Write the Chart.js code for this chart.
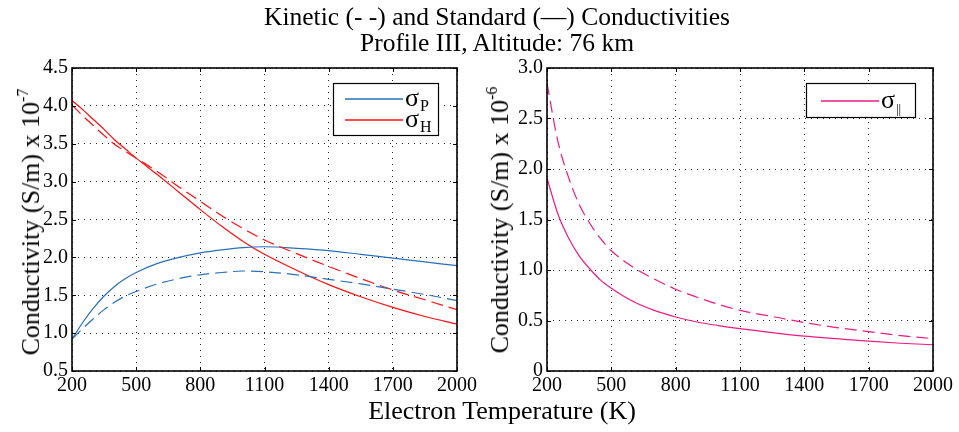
<!DOCTYPE html>
<html>
<head>
<meta charset="utf-8">
<script src="https://cdn.jsdelivr.net/npm/chart.js@4.4.0/dist/chart.umd.min.js"></script>
<style>
  body { margin: 0; background: #fff; }
  #wrap { position: relative; width: 959px; height: 432px; overflow: hidden;
          font-family: "Liberation Serif", "Times New Roman", serif; color: #000; }
  .ttl { position: absolute; left: 247px; width: 500px; text-align: center;
         font-size: 25.5px; line-height: 28px; white-space: nowrap; }
  .ylab { position: absolute; font-size: 26px; white-space: nowrap;
          transform: translate(-50%, -50%) rotate(-90deg); }
  .ylab sup { font-size: 16px; vertical-align: 11px; }
  canvas { position: absolute; top: 0; }
</style>
</head>
<body>
<div id="wrap">
  <canvas id="leftChart" width="480" height="432" style="left:0"></canvas>
  <canvas id="rightChart" width="479" height="432" style="left:480px"></canvas>
  <div class="ttl" style="top:3px">Kinetic (- -) and Standard (—) Conductivities</div>
  <div class="ttl" style="top:29px">Profile III, Altitude: 76 km</div>
  <div class="ttl" style="top:397px;left:252px;font-size:26px">Electron Temperature (K)</div>
  <div class="ylab" style="left:30px;top:222px">Conductivity (S/m) x 10<sup>-7</sup></div>
  <div class="ylab" style="left:499px;top:220px">Conductivity (S/m) x 10<sup>-6</sup></div>
</div>
<script>
// values
const xTicks = [200, 500, 800, 1100, 1400, 1700, 2000];
const yTicksLeft = [0.5, 1, 1.5, 2, 2.5, 3, 3.5, 4, 4.5];
const yTicksRight = [0, 0.5, 1, 1.5, 2, 2.5, 3];

const tempsLeft = [200, 250, 300, 350, 400, 450, 500, 600, 700, 800, 900, 1000, 1100, 1250, 1400, 1550, 1700, 1850, 2000];
const sigmaPStd = [0.92, 1.14, 1.33, 1.49, 1.62, 1.72, 1.80, 1.92, 2.00, 2.06, 2.10, 2.13, 2.14, 2.12, 2.09, 2.04, 1.99, 1.94, 1.89];
const sigmaPKin = [0.92, 1.06, 1.19, 1.31, 1.41, 1.49, 1.55, 1.65, 1.72, 1.77, 1.80, 1.82, 1.81, 1.77, 1.71, 1.65, 1.58, 1.51, 1.43];
const sigmaHStd = [4.07, 3.95, 3.82, 3.69, 3.55, 3.43, 3.31, 3.09, 2.86, 2.63, 2.41, 2.21, 2.04, 1.83, 1.64, 1.48, 1.34, 1.22, 1.12];
const sigmaHKin = [4.01, 3.87, 3.74, 3.61, 3.49, 3.40, 3.31, 3.13, 2.93, 2.74, 2.55, 2.38, 2.23, 2.05, 1.88, 1.72, 1.57, 1.44, 1.31];

const tempsRight = [200, 250, 300, 350, 400, 450, 500, 600, 700, 800, 900, 1000, 1100, 1250, 1400, 1550, 1700, 1850, 2000];
const sigmaParStd = [1.91, 1.56, 1.32, 1.14, 1.01, 0.90, 0.82, 0.69, 0.60, 0.535, 0.485, 0.45, 0.42, 0.38, 0.345, 0.32, 0.295, 0.275, 0.26];
const sigmaParKin = [2.85, 2.28, 1.92, 1.65, 1.46, 1.31, 1.19, 1.03, 0.91, 0.81, 0.73, 0.66, 0.60, 0.54, 0.48, 0.43, 0.39, 0.35, 0.32];

const BLUE = "#2a70b8";
const RED = "#ff1010";
const PINK = "#ee1a86";
const SERIF = "'Liberation Serif', 'Times New Roman', serif";
const DASH = [12, 6];

const toPoints = (xs, ys) => xs.map((x, i) => ({ x, y: ys[i] }));

const line = (label, xs, ys, color, dashed) => ({
  label,
  data: toPoints(xs, ys),
  borderColor: color,
  borderWidth: 1.2,
  borderDash: dashed ? DASH : [],
  pointRadius: 0,
  fill: false,
  cubicInterpolationMode: "monotone",
});

// black box round the plot + small inward ticks, like the original
const framePlugin = {
  id: "frame",
  afterDatasetsDraw(chart) {
    const { ctx, chartArea: a, scales } = chart;
    ctx.save();
    ctx.strokeStyle = "#000";
    ctx.lineWidth = 1;
    ctx.beginPath();
    scales.x.ticks.forEach(t => {
      const px = Math.round(scales.x.getPixelForValue(t.value)) + 0.5;
      ctx.moveTo(px, a.bottom); ctx.lineTo(px, a.bottom - 4);
      ctx.moveTo(px, a.top); ctx.lineTo(px, a.top + 4);
    });
    scales.y.ticks.forEach(t => {
      const py = Math.round(scales.y.getPixelForValue(t.value)) + 0.5;
      ctx.moveTo(a.left, py); ctx.lineTo(a.left + 4, py);
      ctx.moveTo(a.right, py); ctx.lineTo(a.right - 4, py);
    });
    ctx.stroke();
    ctx.lineWidth = 1.6;
    ctx.strokeRect(a.left, a.top, a.right - a.left, a.bottom - a.top);
    ctx.restore();
  },
};

// legend with subscripts (sigma_P etc.), which the stock legend can't do
const sigmaLegend = {
  id: "sigmaLegend",
  afterDraw(chart, args, opts) {
    if (!opts.entries) return;
    const { ctx, chartArea: a } = chart;
    const left = a.right - opts.right - opts.width;
    const top = a.top + opts.top;
    ctx.save();
    ctx.fillStyle = "#fff";
    ctx.fillRect(left, top, opts.width, opts.height);
    ctx.strokeStyle = "#000";
    ctx.lineWidth = 1.2;
    ctx.strokeRect(left + 0.5, top + 0.5, opts.width, opts.height);
    opts.entries.forEach((e, i) => {
      const y = top + opts.firstRow + i * opts.rowGap;
      ctx.strokeStyle = e.color;
      ctx.lineWidth = 1.5;
      ctx.beginPath();
      ctx.moveTo(left + opts.lineStart, y);
      ctx.lineTo(left + opts.lineStart + 58, y);
      ctx.stroke();
      ctx.fillStyle = "#000";
      ctx.textBaseline = "alphabetic";
      ctx.font = "26px " + SERIF;
      const tx = left + opts.lineStart + 60;
      ctx.fillText("σ", tx, y + 7);
      const w = ctx.measureText("σ").width;
      ctx.font = e.subSize + "px " + SERIF;
      ctx.fillText(e.sub, tx + w + 1, y + 12);
    });
    ctx.restore();
  },
};

function makeOptions(yMin, yMax, yTicks, fmt, yWidth, padLeft, padRight, legend) {
  const tickFont = { family: SERIF, size: 20 };
  return {
    responsive: false,
    animation: false,
    layout: { padding: { left: padLeft, right: padRight, top: 68, bottom: 0 } },
    plugins: {
      legend: { display: false },
      tooltip: { enabled: false },
      sigmaLegend: legend,
    },
    scales: {
      x: {
        type: "linear",
        min: 200,
        max: 2000,
        afterBuildTicks: s => { s.ticks = xTicks.map(v => ({ value: v })); },
        afterFit: s => { s.height = 61; },
        grid: { color: "rgba(0,0,0,0.85)", lineWidth: 1, drawTicks: false },
        border: { display: false, dash: [1, 5] },
        ticks: { color: "#000", font: tickFont, padding: 3, maxRotation: 0, autoSkip: false,
                 callback: v => String(v) },
      },
      y: {
        type: "linear",
        min: yMin,
        max: yMax,
        afterBuildTicks: s => { s.ticks = yTicks.map(v => ({ value: v })); },
        afterFit: s => { s.width = yWidth; },
        grid: { color: "rgba(0,0,0,0.85)", lineWidth: 1, drawTicks: false },
        border: { display: false, dash: [1, 5] },
        ticks: { color: "#000", font: tickFont, padding: 4, callback: fmt },
      },
    },
  };
}

new Chart(document.getElementById("leftChart").getContext("2d"), {
  type: "line",
  data: {
    datasets: [
      line("σP kinetic", tempsLeft, sigmaPKin, BLUE, true),
      line("σH kinetic", tempsLeft, sigmaHKin, RED, true),
      line("σP", tempsLeft, sigmaPStd, BLUE, false),
      line("σH", tempsLeft, sigmaHStd, RED, false),
    ],
  },
  options: makeOptions(0.5, 4.5, yTicksLeft, v => v.toFixed(1), 44, 28, 21, {
    width: 105, height: 52, right: 19, top: 15, firstRow: 16, rowGap: 21, lineStart: 12,
    entries: [
      { color: BLUE, sub: "P", subSize: 16 },
      { color: RED, sub: "H", subSize: 16 },
    ],
  }),
  plugins: [framePlugin, sigmaLegend],
});

new Chart(document.getElementById("rightChart").getContext("2d"), {
  type: "line",
  data: {
    datasets: [
      line("σ|| kinetic", tempsRight, sigmaParKin, PINK, true),
      line("σ||", tempsRight, sigmaParStd, PINK, false),
    ],
  },
  options: makeOptions(0, 3, yTicksRight, v => (v === 0 ? "0" : v.toFixed(1)), 45, 22, 26, {
    width: 109, height: 34, right: 18, top: 15, firstRow: 18, rowGap: 21, lineStart: 15,
    entries: [{ color: PINK, sub: "||", subSize: 13 }],
  }),
  plugins: [framePlugin, sigmaLegend],
});
</script>
</body>
</html>
